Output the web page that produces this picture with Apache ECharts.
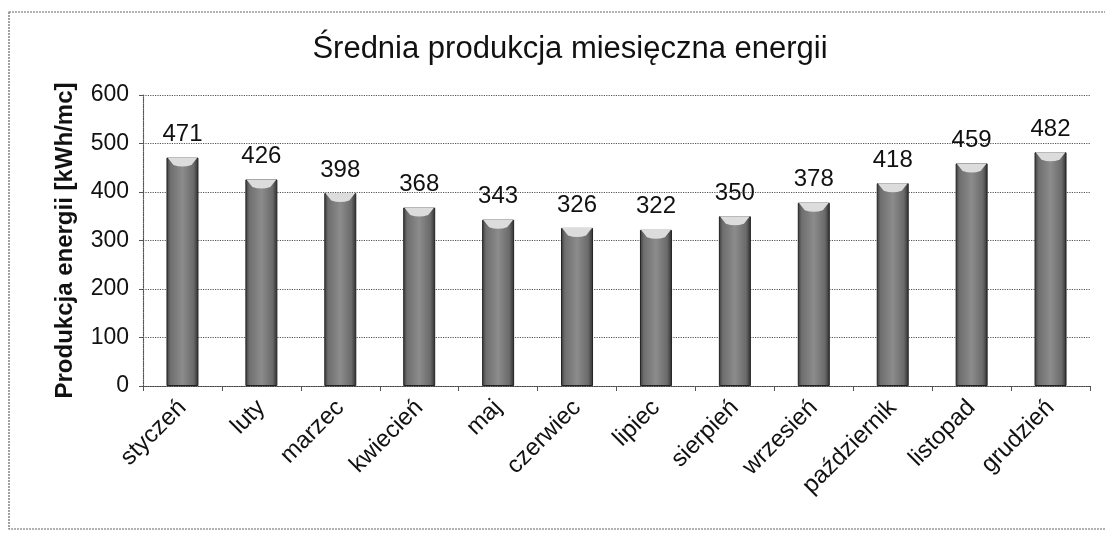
<!DOCTYPE html>
<html>
<head>
<meta charset="utf-8">
<script src="https://cdn.jsdelivr.net/npm/echarts@6/dist/echarts.min.js"></script>
<style>html,body{margin:0;padding:0;background:#fff;}#c{width:1105px;height:533px;}</style>
</head>
<body>
<div id="c"></div>
<script>
const months = ['styczeń','luty','marzec','kwiecień','maj','czerwiec','lipiec','sierpień','wrzesień','październik','listopad','grudzień'];
const production = [471, 426, 398, 368, 343, 326, 322, 350, 378, 418, 459, 482];
const chartTitle = 'Średnia produkcja miesięczna energii';
const yAxisTitle = 'Produkcja energii [kWh/mc]';

const chart = echarts.init(document.getElementById('c'));
const font = 'Liberation Sans, Arial, sans-serif';
chart.setOption({
  animation: false,
  backgroundColor: '#fff',
  title: {
    text: chartTitle, left: 565, top: 29, textAlign: 'center',
    textStyle: { fontFamily: font, fontSize: 31, fontWeight: 'normal', color: '#111' }
  },
  graphic: [{
    type: 'rect', shape: { x: 9, y: 12, width: 1110, height: 517 },
    style: { fill: 'none', stroke: '#666', lineWidth: 1.2, lineDash: [2, 1] }, silent: true
  }],
  grid: { left: 143, right: 15, top: 95, bottom: 147, show: false },
  xAxis: {
    type: 'category', data: months,
    axisLine: { lineStyle: { color: '#444', type: 'dotted', width: 1.2 } },
    axisTick: { show: true, length: 5, lineStyle: { color: '#555' } },
    axisLabel: { rotate: 45, fontFamily: font, fontSize: 24, color: '#111', margin: 18 }
  },
  yAxis: {
    type: 'value', min: 0, max: 600, interval: 100,
    name: yAxisTitle, nameLocation: 'middle', nameGap: 66,
    nameTextStyle: { fontFamily: font, fontSize: 24, fontWeight: 'bold', color: '#111' },
    axisLine: { show: true, lineStyle: { color: '#555', type: 'dotted', width: 1.2 } },
    axisTick: { show: true, length: 4, lineStyle: { color: '#555' } },
    axisLabel: { fontFamily: font, fontSize: 23, color: '#111', margin: 14 },
    splitLine: { show: true, lineStyle: { color: '#555', type: 'dotted', width: 1.2 } }
  },
  series: [{
    type: 'bar', data: production, barWidth: 32,
    itemStyle: {
      color: new echarts.graphic.LinearGradient(0, 0, 1, 0, [
        { offset: 0, color: '#3a3a3a' },
        { offset: 0.12, color: '#6e6e6e' },
        { offset: 0.5, color: '#8c8c8c' },
        { offset: 0.85, color: '#6a6a6a' },
        { offset: 1, color: '#2e2e2e' }
      ]),
      borderColor: '#222', borderWidth: 1
    },
    label: { show: true, position: 'top', distance: 11, fontFamily: font, fontSize: 24, color: '#111' },
    z: 2
  }, {
    type: 'pictorialBar', data: production,
    symbol: 'path://M0,0 L10,0 L8,3 Q5,4.2 2,3 Z',
    symbolSize: [30, 9], symbolPosition: 'end', symbolOffset: [0, 0],
    itemStyle: { color: '#dcdcdc' }, z: 3, silent: true
  }]
});
</script>
</body>
</html>
